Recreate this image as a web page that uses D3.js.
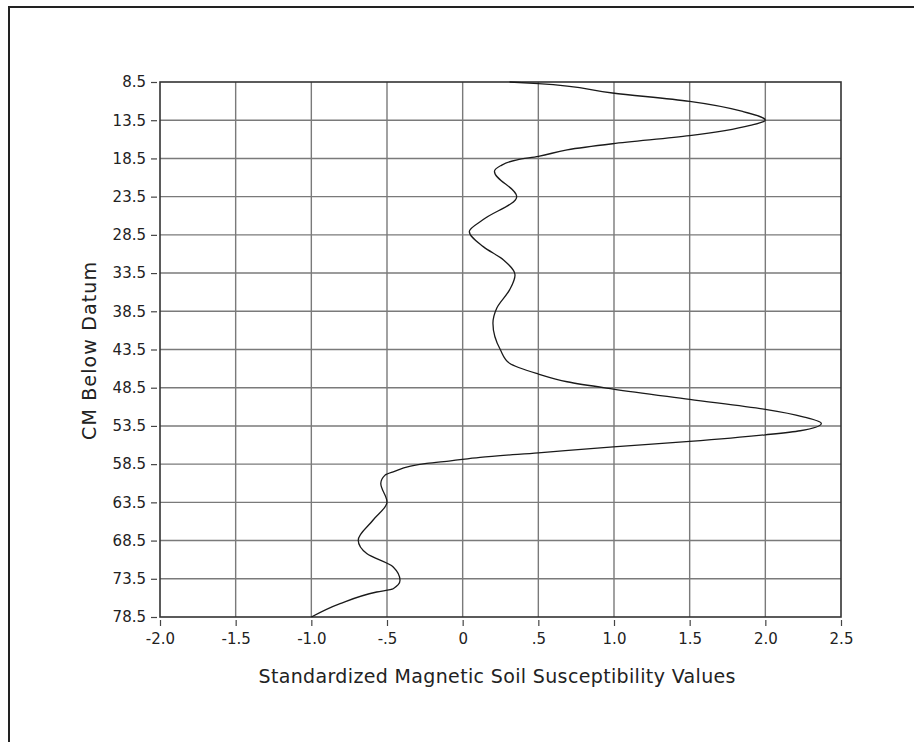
<!DOCTYPE html>
<html>
<head>
<meta charset="utf-8">
<script src="https://cdn.jsdelivr.net/npm/d3@7/dist/d3.min.js"></script>
<style>
  html, body { margin: 0; padding: 0; background: #fff; }
  svg { display: block; }
  text { font-family: "DejaVu Sans", sans-serif; fill: #222; }
</style>
</head>
<body>
<svg id="chart" width="914" height="742"></svg>
<script>
// Depth (cm below datum) and standardized magnetic susceptibility values
const depths = [8.5, 8.72, 9.94, 11.04, 12.35, 13.5, 14.19, 15.53, 16.58, 17.37, 18.24, 18.68, 19.46, 20.2,
  23.5, 26.5, 28.07, 30.04, 31.78, 33.74, 35.7, 38.1, 40.07, 43.57, 45.31, 46.71, 47.72, 48.68, 50.03,
  51.34, 52.3, 53.17, 54.13, 54.66, 55.53, 56.24, 57.02, 57.62, 58.07, 58.4, 59.5, 59.94, 61.03, 63.44,
  65.84, 68.46, 70.2, 71.95, 73.7, 74.8, 75.23, 76.75, 78.5];
const values = [0.31, 0.50, 0.99, 1.50, 1.85, 2.00, 1.90, 1.50, 0.99, 0.69, 0.50, 0.36, 0.25, 0.21,
  0.357, 0.136, 0.044, 0.136, 0.27, 0.346, 0.31, 0.225, 0.20, 0.25, 0.31, 0.50, 0.69, 0.995, 1.50,
  2.0, 2.25, 2.37, 2.23, 2.0, 1.50, 0.995, 0.50, 0.115, -0.08, -0.238, -0.459, -0.513, -0.541, -0.50,
  -0.593, -0.69, -0.634, -0.459, -0.414, -0.459, -0.568, -0.81, -1.0];
const xTicks = [-2.0, -1.5, -1.0, -0.5, 0, 0.5, 1.0, 1.5, 2.0, 2.5];
const xTickLabels = ["-2.0", "-1.5", "-1.0", "-.5", "0", ".5", "1.0", "1.5", "2.0", "2.5"];
const yTicks = [8.5, 13.5, 18.5, 23.5, 28.5, 33.5, 38.5, 43.5, 48.5, 53.5, 58.5, 63.5, 68.5, 73.5, 78.5];
const xTitle = "Standardized Magnetic Soil Susceptibility Values";
const yTitle = "CM Below Datum";

const svg = d3.select("#chart");
const pL = 160, pR = 841, pT = 82, pB = 617;
const FONT = "'DejaVu Sans', sans-serif";

const x = d3.scaleLinear().domain([-2.0, 2.5]).range([pL, pR]);
const y = d3.scaleLinear().domain([8.5, 78.5]).range([pT, pB]);

// outer frame
svg.append("path")
  .attr("d", "M9,742 V7 H914")
  .attr("fill", "none").attr("stroke", "#222").attr("stroke-width", 2);

// grid
const grid = svg.append("g").attr("stroke", "#7a7a7a").attr("stroke-width", 1.4);
grid.selectAll("line.v").data(xTicks.slice(1, -1)).enter().append("line")
  .attr("x1", d => x(d)).attr("x2", d => x(d)).attr("y1", pT).attr("y2", pB);
grid.selectAll("line.h").data(yTicks.slice(1, -1)).enter().append("line")
  .attr("x1", pL).attr("x2", pR).attr("y1", d => y(d)).attr("y2", d => y(d));

// plot frame
svg.append("rect")
  .attr("x", pL).attr("y", pT).attr("width", pR - pL).attr("height", pB - pT)
  .attr("fill", "none").attr("stroke", "#333").attr("stroke-width", 1.6);

// axes
const xAxis = d3.axisBottom(x).tickValues(xTicks).tickSize(6).tickPadding(7)
  .tickFormat((d, i) => xTickLabels[i]);
const gx = svg.append("g").attr("transform", `translate(0,${pB + 3})`).call(xAxis);
gx.select(".domain").remove();
gx.selectAll(".tick line").attr("stroke", "#444").attr("stroke-width", 1.2);
gx.selectAll(".tick text").attr("font-size", 15).attr("fill", "#222").style("font-family", FONT);

const yAxis = d3.axisLeft(y).tickValues(yTicks).tickSize(6).tickPadding(5)
  .tickFormat(d3.format(".1f"));
const gy = svg.append("g").attr("transform", `translate(${pL - 3},0)`).call(yAxis);
gy.select(".domain").remove();
gy.selectAll(".tick line").attr("stroke", "#444").attr("stroke-width", 1.2);
gy.selectAll(".tick text").attr("font-size", 15).attr("fill", "#222").style("font-family", FONT);

// curve
const pts = depths.map((d, i) => [values[i], d]);
const line = d3.line().x(p => x(p[0])).y(p => y(p[1])).curve(d3.curveMonotoneY);
svg.append("path").datum(pts).attr("d", line)
  .attr("fill", "none").attr("stroke", "#1a1a1a").attr("stroke-width", 1.3);

// titles
svg.append("text").attr("x", 497).attr("y", 683).attr("text-anchor", "middle")
  .attr("font-size", 19).attr("textLength", 477).attr("lengthAdjust", "spacing")
  .style("font-family", FONT).text(xTitle);
svg.append("text").attr("transform", `translate(96,351) rotate(-90)`).attr("text-anchor", "middle")
  .attr("font-size", 19).attr("textLength", 178).attr("lengthAdjust", "spacing")
  .style("font-family", FONT).text(yTitle);
</script>
</body>
</html>
